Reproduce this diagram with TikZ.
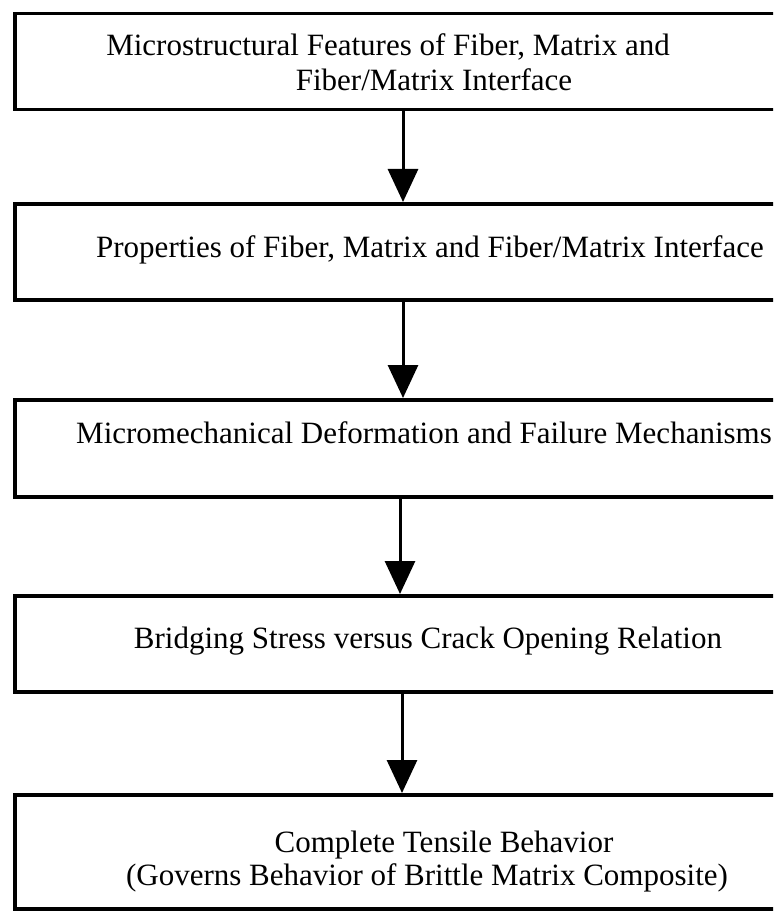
\documentclass[tikz,border=0pt]{standalone}
\usepackage{fontspec}
\setmainfont{Liberation Serif}
\usetikzlibrary{arrows.meta}
\tikzset{
  flowbox/.style={draw=black, line width=3.5pt, rectangle, minimum width=820pt, anchor=north west, inner sep=0pt, fill=none},
  flowtext/.style={inner sep=0pt, font=\fontsize{31}{33}\selectfont},
  flowarrow/.style={draw=black, line width=3pt, -{Triangle[width=30pt,length=33pt]}}
}
\begin{document}
\begin{tikzpicture}[x=1pt,y=-1pt]
\useasboundingbox (0,0) rectangle (773,912);
\begin{scope}
\clip (0,0) rectangle (773,912);
\fill[white] (0,0) rectangle (773,912);
% boxes
\node[flowbox, minimum height=96pt] (b1) at (13,12) {};
\node[flowbox, minimum height=96pt] (b2) at (13,202) {};
\node[flowbox, minimum height=97pt] (b3) at (13,398) {};
\node[flowbox, minimum height=96pt] (b4) at (13,594) {};
\node[flowbox, minimum height=114pt] (b5) at (13,793) {};
% texts
\node[flowtext] (t1a) at (388,47) {Microstructural Features of Fiber, Matrix and};
\node[flowtext] (t1b) at (434,80) {Fiber/Matrix Interface};
\node[flowtext] (t2) at (430,250) {Properties of Fiber, Matrix and Fiber/Matrix Interface};
\node[flowtext] (t3) at (424,433) {Micromechanical Deformation and Failure Mechanisms};
\node[flowtext] (t4) at (428,641) {Bridging Stress versus Crack Opening Relation};
\node[flowtext] (t5a) at (444,845) {Complete Tensile Behavior};
\node[flowtext] (t5b) at (427,878) {(Governs Behavior of Brittle Matrix Composite)};
% arrow axis
\coordinate (ax1) at (403,0);
\coordinate (ax2) at (403,0);
\coordinate (ax3) at (400,0);
\coordinate (ax4) at (402,0);
\draw[flowarrow] (b1.south -| ax1) -- (b2.north -| ax1);
\draw[flowarrow] (b2.south -| ax2) -- (b3.north -| ax2);
\draw[flowarrow] (b3.south -| ax3) -- (b4.north -| ax3);
\draw[flowarrow] (b4.south -| ax4) -- (b5.north -| ax4);
\end{scope}
\end{tikzpicture}
\end{document}
